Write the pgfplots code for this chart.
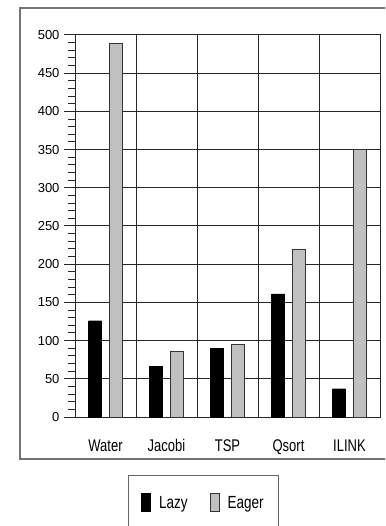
\documentclass[border=0pt]{standalone}
\usepackage{fontspec}
\setmainfont{Liberation Sans}
\usepackage{graphicx}
\usepackage{pgfplots}
\pgfplotsset{compat=1.18}
\newcommand\tall[1]{\scalebox{1}[1.3]{#1}}
\definecolor{eagergray}{RGB}{192,192,192}
\begin{document}
\begin{tikzpicture}
\clip (-75pt,-109pt) rectangle (310pt,417pt);
\begin{axis}[
  scale only axis,
  width=305pt, height=382pt,
  xmin=-0.5, xmax=4.5,
  ymin=0, ymax=500,
  axis line style={black!85, line width=1pt},
  ybar=8pt, bar width=13pt,
  /pgf/number format/assume math mode=true,
  tick label style={font=\fontsize{13}{15}\selectfont, black},
  xtick={0,1,2,3,4},
  xticklabels={\tall{Water},\tall{Jacobi},\tall{TSP},\tall{Qsort},\tall{ILINK}},
  x tick style={draw=none},
  xticklabel style={yshift=-8pt},
  extra x ticks={-0.5,0.5,1.5,2.5,3.5,4.5},
  extra x tick labels={},
  extra x tick style={grid=major, tick align=outside, major tick length=13pt,
    xtick pos=bottom, tick style={draw=black!85, line width=1pt}},
  ytick={0,50,...,500},
  minor y tick num=4,
  ytick pos=left,
  tick align=outside,
  y tick style={black!85, line width=1pt},
  major tick length=11pt,
  minor tick length=7pt,
  ymajorgrids,
  grid style={black!85, line width=1pt},
  yticklabel style={xshift=-1pt},
  legend columns=2,
  legend style={at={(53pt,-58pt)}, anchor=north west, draw=black!60,
    line width=0.8pt, inner xsep=13pt, inner ysep=18pt,
    /tikz/every odd column/.append style={column sep=6pt},
    /tikz/every even column/.append style={column sep=20pt},
    font=\fontsize{13.5}{15}\selectfont},
  legend image code/.code={\draw[#1, line width=0.8pt] (0pt,-9pt) rectangle (9pt,9pt);},
]
\addplot[fill=black, draw=black] coordinates {(0,126) (1,66) (2,90) (3,161) (4,37)};
\addlegendentry{\tall{Lazy}}
\addplot[fill=eagergray, draw=black!80] coordinates {(0,489) (1,86) (2,95) (3,220) (4,350)};
\addlegendentry{\tall{Eager}}
\end{axis}
\draw[black!55, line width=1.2pt] (-55pt,-42pt) rectangle (330pt,409pt);
\end{tikzpicture}
\end{document}
